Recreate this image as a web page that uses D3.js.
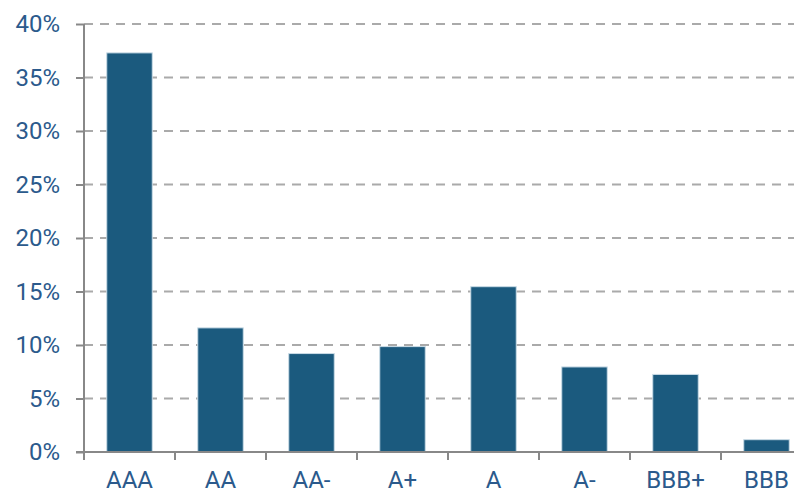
<!DOCTYPE html>
<html>
<head>
<meta charset="utf-8">
<script src="https://cdn.jsdelivr.net/npm/d3@7"></script>
<style>
  html, body { margin: 0; padding: 0; background: #fff; }
  svg text { font-family: Roboto, "Liberation Sans", Arial, sans-serif; fill: #2b5a8c; }
</style>
</head>
<body>
<div id="chart-container"></div>
<script>
// ratings and share of portfolio (%)
const ratings = ["AAA", "AA", "AA-", "A+", "A", "A-", "BBB+", "BBB"];
const shares = [37.3, 11.6, 9.2, 9.85, 15.45, 7.95, 7.25, 1.15];
const yTicks = [0, 5, 10, 15, 20, 25, 30, 35, 40];

{
  const color = {
    bar: "#1b5a7e",
    barEdge: "#c9dbe6",
    axis: "#888888",
    grid: "#aaaaaa",
    text: "#2b5a8c"
  };

  const totalWidth = 794;
  const totalHeight = 495;
  const margin = { top: 24, left: 84, bottom: 43 };
  const step = 91;
  const plotBottom = totalHeight - margin.bottom;
  const fontSize = 24;

  const svg = d3.select('#chart-container')
    .append('svg')
    .attr('width', totalWidth)
    .attr('height', totalHeight);

  // x scale: one band per rating, bars take half the step
  const xScale = d3.scaleBand()
    .domain(ratings)
    .range([margin.left, margin.left + step * ratings.length])
    .paddingInner(0.5)
    .paddingOuter(0.25);

  // y scale
  const yScale = d3.scaleLinear()
    .domain([0, 40])
    .range([plotBottom, margin.top]);

  // dashed gridlines
  svg.append('g')
    .selectAll('line')
    .data(yTicks.filter(d => d > 0))
    .enter()
    .append('line')
    .attr('x1', margin.left)
    .attr('x2', totalWidth)
    .attr('y1', d => yScale(d))
    .attr('y2', d => yScale(d))
    .attr('stroke', color.grid)
    .attr('stroke-width', 2)
    .attr('stroke-dasharray', '9,7');

  // bars
  svg.append('g')
    .selectAll('rect')
    .data(ratings)
    .enter()
    .append('rect')
    .attr('x', d => xScale(d))
    .attr('y', (d, i) => yScale(shares[i]))
    .attr('width', xScale.bandwidth())
    .attr('height', (d, i) => plotBottom - yScale(shares[i]))
    .attr('fill', color.bar)
    .attr('stroke', color.barEdge)
    .attr('stroke-width', 1);

  // y axis
  const yAxis = d3.axisLeft(yScale)
    .tickValues(yTicks)
    .tickSize(8)
    .tickPadding(16)
    .tickFormat(d => d + '%');
  const yAxisGroup = svg.append('g')
    .attr('transform', `translate(${margin.left}, 0)`)
    .call(yAxis);
  yAxisGroup.select('.domain')
    .attr('stroke', color.axis)
    .attr('stroke-width', 2)
    .attr('d', `M0,${margin.top}V${plotBottom}`);
  yAxisGroup.selectAll('.tick line')
    .attr('stroke', color.axis)
    .attr('stroke-width', 2);
  yAxisGroup.selectAll('text')
    .attr('font-size', fontSize)
    .attr('fill', color.text);

  // x axis: labels centered on bars, ticks on band boundaries
  const xAxis = d3.axisBottom(xScale)
    .tickSize(0)
    .tickPadding(19);
  const xAxisGroup = svg.append('g')
    .attr('transform', `translate(0, ${plotBottom})`)
    .call(xAxis);
  xAxisGroup.select('.domain')
    .attr('stroke', color.axis)
    .attr('stroke-width', 2)
    .attr('d', `M${margin.left - 8},0H${totalWidth}`);
  xAxisGroup.selectAll('text')
    .attr('font-size', fontSize)
    .attr('fill', color.text);

  xAxisGroup.selectAll('line.boundary')
    .data(ratings)
    .enter()
    .append('line')
    .attr('class', 'boundary')
    .attr('x1', d => xScale(d) - xScale.step() * 0.25)
    .attr('x2', d => xScale(d) - xScale.step() * 0.25)
    .attr('y1', 0)
    .attr('y2', 8)
    .attr('stroke', color.axis)
    .attr('stroke-width', 2);
}
</script>
</body>
</html>
